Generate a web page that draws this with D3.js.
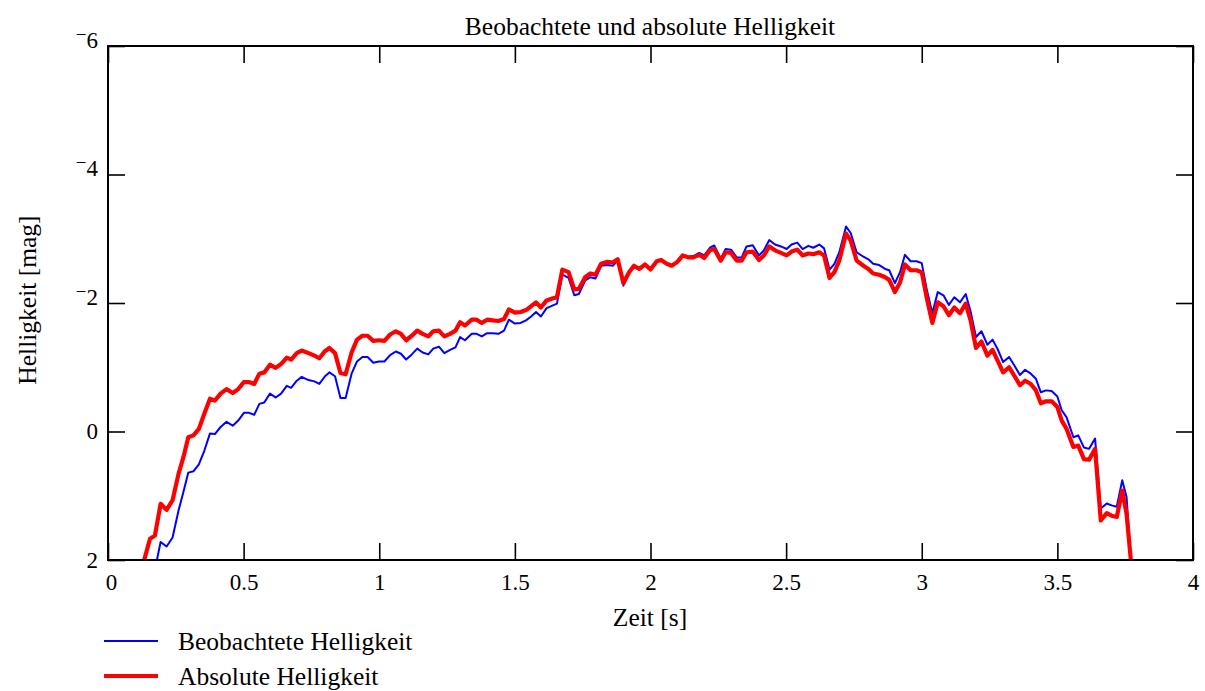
<!DOCTYPE html>
<html><head><meta charset="utf-8">
<script src="https://cdn.jsdelivr.net/npm/d3@7"></script>
<style>
body{margin:0;background:#fff;}
svg{display:block;}
svg text{font-family:"Liberation Serif","Times New Roman",serif;}
</style></head>
<body>
<svg id="chart" width="1205" height="691"></svg>
<script>
const title = "Beobachtete und absolute Helligkeit";
const xLabel = "Zeit [s]";
const yLabel = "Helligkeit [mag]";
const seriesNames = ["Beobachtete Helligkeit", "Absolute Helligkeit"];
const xTicks = [0, 0.5, 1, 1.5, 2, 2.5, 3, 3.5, 4];
const yTicks = [-6, -4, -2, 0, 2];

const time = [0.130,0.155,0.173,0.194,0.216,0.238,0.260,0.278,0.296,0.315,0.335,0.355,0.376,0.394,0.415,0.437,0.460,0.480,0.501,0.520,0.539,0.558,0.576,0.597,0.618,0.638,0.659,0.675,0.696,0.714,0.739,0.761,0.779,0.800,0.816,0.837,0.857,0.876,0.898,0.918,0.938,0.957,0.978,0.999,1.019,1.040,1.061,1.080,1.099,1.120,1.140,1.160,1.181,1.199,1.220,1.240,1.261,1.281,1.298,1.316,1.341,1.359,1.378,1.398,1.418,1.439,1.460,1.478,1.500,1.521,1.541,1.560,1.578,1.596,1.617,1.638,1.655,1.675,1.698,1.719,1.736,1.759,1.778,1.797,1.818,1.841,1.861,1.879,1.900,1.921,1.939,1.959,1.980,2.000,2.023,2.039,2.060,2.078,2.099,2.119,2.139,2.158,2.180,2.198,2.219,2.235,2.259,2.277,2.297,2.318,2.336,2.354,2.377,2.400,2.418,2.438,2.459,2.481,2.502,2.520,2.541,2.561,2.582,2.600,2.622,2.640,2.660,2.678,2.696,2.721,2.738,2.760,2.785,2.803,2.821,2.843,2.865,2.880,2.901,2.920,2.938,2.959,2.981,3.000,3.018,3.039,3.059,3.080,3.100,3.120,3.141,3.162,3.180,3.200,3.220,3.242,3.261,3.280,3.300,3.322,3.341,3.362,3.381,3.402,3.421,3.439,3.458,3.479,3.500,3.516,3.534,3.559,3.577,3.598,3.617,3.639,3.660,3.682,3.700,3.719,3.739,3.755,3.772];

const observed = [null,null,2.15,1.72,1.79,1.65,1.23,0.94,0.64,0.62,0.51,0.30,0.03,0.04,-0.07,-0.15,-0.09,-0.17,-0.29,-0.29,-0.26,-0.43,-0.45,-0.59,-0.53,-0.59,-0.71,-0.68,-0.79,-0.85,-0.80,-0.78,-0.74,-0.86,-0.92,-0.86,-0.52,-0.52,-0.90,-1.09,-1.16,-1.16,-1.07,-1.09,-1.09,-1.19,-1.245,-1.21,-1.12,-1.20,-1.29,-1.23,-1.20,-1.29,-1.32,-1.22,-1.27,-1.31,-1.47,-1.42,-1.52,-1.52,-1.48,-1.53,-1.53,-1.52,-1.57,-1.74,-1.68,-1.69,-1.73,-1.79,-1.86,-1.79,-1.92,-1.96,-1.99,-2.44,-2.39,-2.12,-2.14,-2.35,-2.40,-2.38,-2.58,-2.59,-2.58,-2.66,-2.27,-2.46,-2.56,-2.52,-2.59,-2.51,-2.65,-2.67,-2.61,-2.58,-2.65,-2.75,-2.72,-2.73,-2.78,-2.74,-2.86,-2.895,-2.69,-2.84,-2.83,-2.71,-2.71,-2.88,-2.90,-2.74,-2.82,-2.98,-2.91,-2.88,-2.84,-2.91,-2.94,-2.84,-2.89,-2.86,-2.91,-2.85,-2.52,-2.61,-2.79,-3.19,-3.09,-2.79,-2.72,-2.68,-2.61,-2.59,-2.53,-2.51,-2.31,-2.48,-2.75,-2.65,-2.65,-2.62,-2.22,-1.84,-2.17,-2.12,-1.97,-2.09,-2.01,-2.14,-1.87,-1.47,-1.56,-1.35,-1.43,-1.28,-1.08,-1.16,-1.03,-0.88,-0.96,-0.90,-0.82,-0.61,-0.64,-0.63,-0.545,-0.33,-0.22,0.09,0.06,0.25,0.27,0.11,1.20,1.12,1.15,1.17,0.76,1.02,2.05];

const absolute = [2.05,1.67,1.62,1.125,1.22,1.07,0.66,0.40,0.09,0.06,-0.04,-0.275,-0.51,-0.48,-0.59,-0.66,-0.60,-0.66,-0.77,-0.77,-0.74,-0.90,-0.92,-1.04,-0.99,-1.05,-1.15,-1.12,-1.22,-1.26,-1.22,-1.18,-1.14,-1.25,-1.30,-1.22,-0.91,-0.89,-1.23,-1.43,-1.49,-1.49,-1.41,-1.42,-1.41,-1.51,-1.56,-1.52,-1.42,-1.49,-1.57,-1.52,-1.48,-1.56,-1.57,-1.48,-1.52,-1.57,-1.70,-1.65,-1.74,-1.74,-1.69,-1.74,-1.73,-1.72,-1.75,-1.90,-1.85,-1.86,-1.89,-1.95,-2.01,-1.93,-2.04,-2.07,-2.09,-2.52,-2.48,-2.21,-2.22,-2.40,-2.46,-2.44,-2.61,-2.64,-2.63,-2.68,-2.31,-2.48,-2.58,-2.53,-2.60,-2.52,-2.65,-2.67,-2.61,-2.58,-2.64,-2.74,-2.71,-2.71,-2.75,-2.70,-2.82,-2.84,-2.66,-2.79,-2.78,-2.66,-2.66,-2.79,-2.80,-2.67,-2.74,-2.88,-2.82,-2.78,-2.74,-2.80,-2.83,-2.74,-2.77,-2.76,-2.79,-2.74,-2.39,-2.48,-2.66,-3.08,-2.97,-2.66,-2.58,-2.53,-2.46,-2.44,-2.40,-2.36,-2.17,-2.32,-2.60,-2.51,-2.51,-2.48,-2.09,-1.69,-2.01,-1.95,-1.81,-1.93,-1.84,-1.99,-1.73,-1.30,-1.40,-1.18,-1.27,-1.10,-0.92,-1.00,-0.87,-0.72,-0.79,-0.74,-0.64,-0.44,-0.47,-0.47,-0.38,-0.17,-0.04,0.24,0.22,0.43,0.44,0.27,1.385,1.27,1.31,1.33,0.92,1.28,2.05];

const svg = d3.select("#chart");
const L = 108, R = 1193, T = 46, B = 560;
const x = d3.scaleLinear().domain([0, 4]).range([L, R]);
const y = d3.scaleLinear().domain([-6, 2]).range([T, B]);
const tickLen = 17;
const labelSize = 25.5, tickSize = 23;
const serif = "Liberation Serif, Times New Roman, serif";

svg.append("defs").append("clipPath").attr("id", "plotclip")
  .append("rect").attr("x", L).attr("y", T).attr("width", R - L).attr("height", B - T);

const gB = svg.append("g").attr("transform", `translate(0,${B})`)
  .call(d3.axisBottom(x).tickValues(xTicks).tickSize(-tickLen).tickPadding(14).tickFormat(d => String(d)));
const gT = svg.append("g").attr("transform", `translate(0,${T})`)
  .call(d3.axisTop(x).tickValues(xTicks).tickSize(-tickLen).tickFormat(""));
const gL = svg.append("g").attr("transform", `translate(${L},0)`)
  .call(d3.axisLeft(y).tickValues(yTicks).tickSize(-tickLen).tickPadding(10).tickFormat(d => String(Math.abs(d))));
const gR = svg.append("g").attr("transform", `translate(${R},0)`)
  .call(d3.axisRight(y).tickValues(yTicks).tickSize(-tickLen).tickFormat(""));
[gB, gT, gL, gR].forEach(g => {
  g.attr("font-family", serif).attr("font-size", tickSize);
  g.select(".domain").remove();
  g.selectAll(".tick line").attr("stroke", "#000").attr("stroke-width", 1.6);
  g.selectAll("text").style("font-family", serif).attr("font-size", tickSize).attr("fill", "#000");
});
gB.selectAll(".tick text").attr("dx", d => d === 0 ? 3 : 0);
gL.selectAll(".tick text").each(function(d) {
  const t = d3.select(this);
  if (d < 0) {
    const v = String(Math.abs(d));
    t.text(null);
    t.append("tspan").attr("dy", "-0.30em").attr("font-size", 19).text("\u2212");
    t.append("tspan").attr("dy", "0.30em").text(v);
  }
});

const line = d3.line().defined(d => d[1] !== null).x(d => x(d[0])).y(d => y(d[1]));
const plot = svg.append("g").attr("clip-path", "url(#plotclip)");
plot.append("path").datum(time.map((t, i) => [t, observed[i]]))
  .attr("d", line).attr("fill", "none").attr("stroke", "#0000ff").attr("stroke-width", 2).attr("stroke-linejoin", "round");
plot.append("path").datum(time.map((t, i) => [t, absolute[i]]))
  .attr("d", line).attr("fill", "none").attr("stroke", "#ff0000").attr("stroke-width", 4.2).attr("stroke-linejoin", "round");

svg.append("rect").attr("x", L).attr("y", T).attr("width", R - L).attr("height", B - T)
  .attr("fill", "none").attr("stroke", "#000").attr("stroke-width", 2);

svg.append("text").attr("x", 650).attr("y", 35).attr("text-anchor", "middle")
  .attr("font-size", labelSize).text(title);
svg.append("text").attr("x", 650).attr("y", 626).attr("text-anchor", "middle")
  .attr("font-size", labelSize).text(xLabel);
svg.append("text").attr("transform", "translate(36,300) rotate(-90)").attr("text-anchor", "middle")
  .attr("font-size", labelSize).text(yLabel);

const legend = svg.append("g");
const colors = ["#0000ff", "#ff0000"], widths = [2, 4.2], ly = [641, 676];
seriesNames.forEach((n, i) => {
  legend.append("line").attr("x1", 104).attr("x2", 158).attr("y1", ly[i]).attr("y2", ly[i])
    .attr("stroke", colors[i]).attr("stroke-width", widths[i]);
  legend.append("text").attr("x", 178).attr("y", ly[i] + 9).attr("font-size", labelSize).text(n);
});
</script>
</body></html>
